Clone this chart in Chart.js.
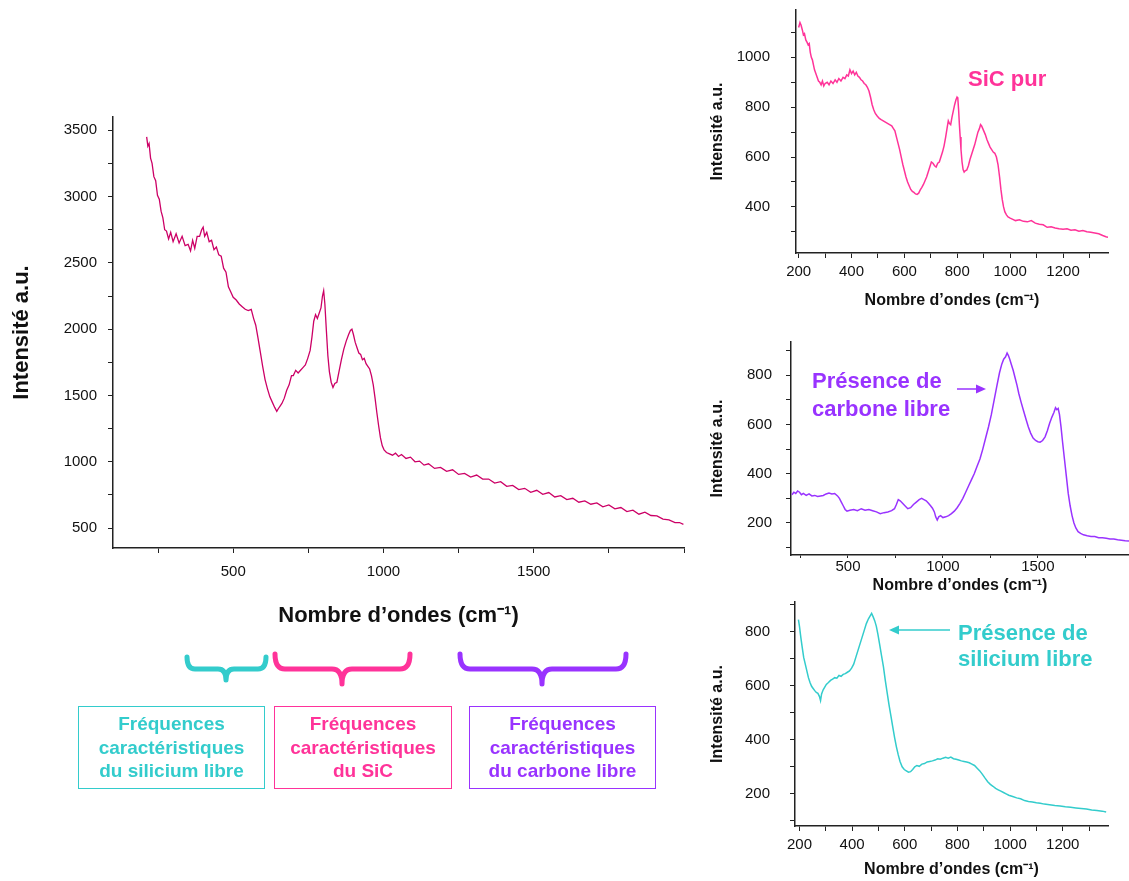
<!DOCTYPE html>
<html lang="fr">
<head>
<meta charset="utf-8">
<title>Spectres Raman - SiC</title>
<script src="https://cdn.jsdelivr.net/npm/chart.js@4.4.1/dist/chart.umd.min.js"></script>
<style>
    body { margin: 0; background: #fff; font-family: 'Liberation Sans', Arial, Helvetica, sans-serif; }
    #page { position: relative; width: 1129px; height: 881px; overflow: hidden; }
    #page canvas, #page svg, .note, .freq-box { position: absolute; }
    .note { font-weight: bold; font-size: 22px; white-space: nowrap; }
    .freq-box {
        box-sizing: border-box; border: 1.5px solid; display: flex; align-items: center;
        justify-content: center; text-align: center; font-weight: bold; font-size: 19px; line-height: 23.5px;
    }
</style>
</head>
<body>
<div id="page">
    <canvas id="mainChart" width="700" height="540" style="left:0;top:100px"></canvas>
    <canvas id="sicChart" width="429" height="320" style="left:700px;top:0"></canvas>
    <canvas id="carbonChart" width="429" height="270" style="left:700px;top:330px"></canvas>
    <canvas id="siliconChart" width="429" height="286" style="left:700px;top:595px"></canvas>

    <div class="note" style="left:968px;top:65px;color:#ff3399;line-height:27px">SiC pur</div>
    <div class="note" style="left:812px;top:367px;color:#9933ff;line-height:28px">Présence de<br>carbone libre</div>
    <div class="note" style="left:958px;top:620px;color:#33cccc;line-height:26px">Présence de<br>silicium libre</div>

    <svg width="1129" height="881" style="left:0;top:0">
        <g fill="none" stroke-width="5" stroke-linecap="round" stroke-linejoin="round">
            <path stroke="#33cccc" d="M187 657 Q187 669 195 669 L218 669 Q226 669 226 680 Q226 669 234 669 L258 669 Q266 669 266 657"/>
            <path stroke="#ff3399" d="M275 654 Q275 669 285 669 L332 669 Q342 669 342 684 Q342 669 352 669 L400 669 Q410 669 410 654"/>
            <path stroke="#9933ff" d="M460 654 Q460 669 470 669 L532 669 Q542 669 542 684 Q542 669 552 669 L616 669 Q626 669 626 654"/>
        </g>
        <line x1="957" y1="389" x2="978" y2="389" stroke="#9933ff" stroke-width="1.5"/>
        <polygon points="986,389 976,384.5 976,393.5" fill="#9933ff"/>
        <line x1="950" y1="630" x2="897" y2="630" stroke="#33cccc" stroke-width="1.5"/>
        <polygon points="889,630 899,625.5 899,634.5" fill="#33cccc"/>
    </svg>

    <div class="freq-box" style="left:78px;top:706px;width:187px;height:83px;border-color:#33cccc;color:#33cccc">Fréquences<br>caractéristiques<br>du silicium libre</div>
    <div class="freq-box" style="left:274px;top:706px;width:178px;height:83px;border-color:#ff3399;color:#ff3399">Fréquences<br>caractéristiques<br>du SiC</div>
    <div class="freq-box" style="left:469px;top:706px;width:187px;height:83px;border-color:#9933ff;color:#9933ff">Fréquences<br>caractéristiques<br>du carbone libre</div>
</div>

<script>
const FONT_FAMILY = "'Liberation Sans', Arial, Helvetica, sans-serif";
const TEXT_COLOR = '#111';
const AXIS_COLOR = '#222';
const X_TITLE = 'Nombre d’ondes (cm⁻¹)';
const Y_TITLE = 'Intensité a.u.';

// spectre principal (échantillon)
const MAIN_WAVENUMBER = [
    212, 216, 220, 225, 230, 236, 242, 248, 254, 260,
    266, 272, 278, 285, 292, 300, 310, 320, 330, 340,
    350, 358, 365, 372, 380, 388, 395, 400, 405, 412,
    420, 428, 436, 444, 452, 460, 468, 476, 484, 492,
    500, 510, 520, 530, 540, 550, 560, 568, 575, 582,
    590, 598, 606, 614, 622, 630, 638, 645, 650, 656,
    662, 670, 678, 686, 694, 700, 708, 716, 724, 732,
    740, 748, 756, 762, 768, 774, 780, 786, 792, 797,
    801, 805, 810, 815, 820, 826, 832, 838, 845, 852,
    860, 868, 876, 884, 890, 895, 900, 906, 912, 918,
    924, 930, 936, 942, 948, 954, 960, 966, 972, 978,
    984, 990, 996, 1002, 1010, 1020, 1030, 1040, 1050, 1060,
    1075, 1090, 1105, 1120, 1135, 1150, 1170, 1190, 1210, 1230,
    1250, 1270, 1290, 1310, 1330, 1350, 1370, 1390, 1410, 1430,
    1450, 1470, 1490, 1510, 1530, 1550, 1570, 1590, 1610, 1630,
    1650, 1670, 1690, 1710, 1730, 1750, 1770, 1790, 1810, 1830,
    1850, 1870, 1890, 1910, 1930, 1950, 1970, 1985, 1998
];
const MAIN_INTENSITY = [
    3450, 3380, 3400, 3290, 3250, 3150, 3120, 3010, 2980, 2890,
    2840, 2750, 2740, 2680, 2730, 2660, 2720, 2650, 2700, 2630,
    2640, 2590, 2670, 2610, 2700, 2700, 2750, 2770, 2700, 2730,
    2660, 2670, 2600, 2620, 2560, 2550, 2460, 2430, 2320, 2280,
    2240, 2220, 2190, 2170, 2150, 2140, 2150, 2080, 2030, 1940,
    1830, 1720, 1620, 1550, 1490, 1450, 1410, 1380, 1400, 1420,
    1440, 1480, 1540, 1580, 1650, 1650, 1690, 1670, 1690, 1710,
    1730, 1780, 1840, 1940, 2060, 2110, 2080, 2120, 2160, 2250,
    2290, 2190, 1990, 1800, 1680, 1600, 1560, 1590, 1600, 1680,
    1770, 1850, 1910, 1960, 1990, 2000, 1960, 1900, 1860, 1820,
    1810, 1770, 1780, 1740, 1720, 1700, 1650, 1580, 1480, 1370,
    1270, 1180, 1120, 1090, 1070, 1060, 1050, 1065, 1040, 1055,
    1025, 1035, 1000, 1005, 975, 985, 950, 958, 928, 940,
    905, 912, 885, 900, 870, 870, 840, 850, 815, 822,
    790, 800, 770, 785, 755, 768, 735, 745, 715, 725,
    695, 705, 680, 690, 660, 675, 645, 655, 625, 635,
    605, 620, 595, 592, 568, 562, 542, 542, 528
];
const MAIN_X_TICKS = [250, 500, 750, 1000, 1250, 1500, 1750, 2000];
const MAIN_X_LABELS = [500, 1000, 1500];
const MAIN_Y_TICKS = [500, 750, 1000, 1250, 1500, 1750, 2000, 2250, 2500, 2750, 3000, 3250, 3500];
const MAIN_Y_LABELS = [500, 1000, 1500, 2000, 2500, 3000, 3500];

// SiC pur
const SIC_WAVENUMBER = [
    200, 205, 209, 214, 218, 222, 227, 232, 236, 240,
    244, 248, 252, 256, 260, 265, 270, 275, 280, 285,
    290, 295, 300, 308, 315, 322, 330, 338, 345, 352,
    360, 368, 375, 382, 388, 394, 400, 406, 412, 418,
    424, 430, 436, 442, 448, 454, 460, 466, 472, 478,
    484, 490, 497, 505, 512, 520, 528, 536, 544, 552,
    558, 564, 570, 576, 582, 588, 594, 600, 606, 612,
    618, 624, 630, 636, 642, 648, 654, 660, 666, 672,
    678, 684, 690, 696, 702, 708, 714, 720, 726, 732,
    738, 744, 750, 756, 762, 766, 770, 775, 780, 785,
    790, 795, 799, 802, 805, 808, 811, 814, 818, 822,
    826, 830, 836, 842, 848, 854, 860, 866, 872, 878,
    884, 888, 892, 896, 900, 906, 912, 918, 924, 930,
    936, 942, 948, 954, 960, 965, 970, 975, 980, 986,
    992, 1000, 1010, 1020, 1035, 1050, 1065, 1080, 1095, 1110,
    1125, 1140, 1155, 1170, 1185, 1200, 1215, 1230, 1245, 1260,
    1275, 1290, 1305, 1320, 1335, 1350, 1362, 1370
];
const SIC_INTENSITY = [
    1120, 1140, 1130, 1110, 1090, 1095, 1070, 1060, 1050, 1055,
    1020, 1000, 990, 970, 950, 935, 920, 905, 900, 890,
    905, 885, 895, 900, 890, 905, 895, 910, 900, 915,
    905, 920, 915, 930, 925, 950, 935, 945, 930, 940,
    925, 920, 910, 905, 895, 890, 880, 865, 840, 810,
    790, 775, 765, 755, 750, 745, 740, 735, 730, 725,
    715, 705, 680, 655, 630, 600, 570, 545, 520, 500,
    485, 470, 462, 458, 452, 450, 455, 468, 478, 490,
    505, 520, 540, 560, 580, 575, 565, 560, 575, 580,
    600, 620, 645, 680, 720, 745, 735, 730, 760, 785,
    810, 830, 840, 835, 790, 730, 680, 630, 580, 550,
    540, 545, 548, 565, 590, 610, 630, 650, 675, 700,
    715, 730, 725, 715, 705, 690, 670, 655, 640, 630,
    620, 615, 600, 570, 520, 470, 430, 400, 380, 368,
    360, 355, 350, 345, 348, 342, 340, 345, 335, 330,
    328, 318, 320, 315, 312, 310, 312, 306, 308, 302,
    305, 300, 298, 295, 292, 285, 280, 278
];
const SIC_X_TICKS = [200, 300, 400, 500, 600, 700, 800, 900, 1000, 1100, 1200, 1300];
const SIC_X_LABELS = [200, 400, 600, 800, 1000, 1200];
const SIC_Y_TICKS = [300, 400, 500, 600, 700, 800, 900, 1000, 1100];
const SIC_Y_LABELS = [400, 600, 800, 1000];

// carbone libre
const CARBON_WAVENUMBER = [
    205, 215, 225, 235, 245, 255, 265, 280, 295, 310,
    325, 340, 355, 370, 385, 400, 415, 430, 445, 455,
    465, 475, 485, 495, 510, 530, 550, 570, 590, 610,
    630, 650, 670, 690, 710, 730, 745, 755, 765, 775,
    785, 800, 815, 830, 845, 860, 875, 888, 900, 912,
    924, 935, 945, 955, 962, 970, 978, 988, 1000, 1015,
    1030, 1045, 1060, 1075, 1090, 1105, 1120, 1135, 1150, 1165,
    1180, 1195, 1210, 1225, 1240, 1255, 1270, 1285, 1298, 1310,
    1320, 1330, 1338, 1345, 1352, 1360, 1370, 1380, 1390, 1400,
    1412, 1425, 1438, 1450, 1462, 1475, 1488, 1500, 1512, 1525,
    1538, 1550, 1562, 1574, 1585, 1593, 1600, 1607, 1614, 1622,
    1630, 1640, 1650, 1660, 1670, 1680, 1690, 1700, 1712, 1725,
    1740, 1760, 1780, 1800, 1820, 1840, 1860, 1880, 1900, 1920,
    1940, 1960, 1980
];
const CARBON_INTENSITY = [
    315, 325, 320, 330, 325, 315, 320, 312, 318, 310,
    312, 308, 310, 312, 318, 322, 318, 320, 310, 300,
    285, 270, 255, 248, 252, 255, 250, 258, 252, 255,
    250, 245, 238, 242, 245, 250, 258, 275, 295, 290,
    282, 270, 258, 262, 275, 285, 295, 300, 295, 290,
    280, 270, 260, 245, 225, 212, 225, 230, 222, 225,
    230, 238, 248, 262, 280, 300, 325, 350, 375, 400,
    430, 460, 500, 545, 590, 640, 700, 760, 810, 845,
    865, 875, 890, 880, 865, 845, 820, 790, 760, 725,
    690, 655, 620, 590, 565, 545, 535, 530, 528, 535,
    550, 575, 605, 630, 650, 668, 660, 665, 640, 590,
    530, 460, 390, 320, 270, 230, 200, 180, 165, 158,
    152, 148, 145, 145, 140, 140, 138, 135, 135, 132,
    130, 128, 127
];
const CARBON_X_TICKS = [250, 500, 750, 1000, 1250, 1500, 1750];
const CARBON_X_LABELS = [500, 1000, 1500];
const CARBON_Y_TICKS = [100, 200, 300, 400, 500, 600, 700, 800, 900];
const CARBON_Y_LABELS = [200, 400, 600, 800];

// silicium libre
const SILICON_WAVENUMBER = [
    196, 200, 205, 210, 216, 222, 228, 234, 240, 246,
    252, 258, 264, 270, 276, 280, 284, 290, 296, 302,
    310, 318, 326, 334, 342, 350, 358, 366, 374, 382,
    390, 398, 406, 414, 422, 430, 438, 446, 454, 462,
    468, 474, 480, 486, 492, 498, 505, 512, 519, 526,
    533, 540, 547, 554, 561, 568, 575, 582, 590, 598,
    606, 614, 622, 630, 638, 646, 655, 665, 675, 685,
    695, 705, 715, 725, 735, 745, 755, 765, 775, 785,
    795, 805, 815, 825, 835, 845, 855, 865, 875, 885,
    895, 905, 915, 925, 935, 945, 955, 965, 975, 985,
    995, 1010, 1025, 1040, 1055, 1070, 1085, 1100, 1115, 1130,
    1150, 1170, 1190, 1210, 1230, 1250, 1270, 1290, 1310, 1330,
    1350, 1365
];
const SILICON_INTENSITY = [
    845, 820, 780, 745, 705, 680, 655, 630, 612, 598,
    590, 582, 575, 572, 560, 545, 570, 585, 595, 605,
    612, 620, 625, 630, 628, 638, 635, 642, 645, 650,
    655, 665, 680, 705, 730, 755, 780, 805, 830, 848,
    858, 868, 855, 840, 820, 790, 750, 710, 670, 620,
    575, 530, 490, 450, 410, 375, 345, 320, 300, 290,
    285, 280, 282, 290, 300, 305, 302, 310, 312, 318,
    320, 322, 325, 330, 328, 332, 335, 332, 336, 330,
    328, 325, 322, 320, 318, 315, 310, 305, 295, 285,
    272, 258, 245, 235, 228, 220, 215, 210, 205, 200,
    195, 190, 185, 182, 175, 172, 170, 167, 165, 162,
    160, 157, 155, 152, 150, 148, 146, 144, 140, 138,
    136, 133
];
const SILICON_X_TICKS = [200, 300, 400, 500, 600, 700, 800, 900, 1000, 1100, 1200, 1300];
const SILICON_X_LABELS = [200, 400, 600, 800, 1000, 1200];
const SILICON_Y_TICKS = [100, 200, 300, 400, 500, 600, 700, 800, 900];
const SILICON_Y_LABELS = [200, 400, 600, 800];

function toPoints(xs, ys) {
    return xs.map((x, i) => ({x: x, y: ys[i]}));
}

function axisOptions(axis) {
    return {
        type: 'linear',
        min: axis.range[0],
        max: axis.range[1],
        afterBuildTicks: scale => { scale.ticks = axis.ticks.map(v => ({value: v})); },
        afterFit: scale => {
            // fixed box sizes so the plot area lands where the figure has it
            if (scale.isHorizontal()) scale.height = axis.size;
            else scale.width = axis.size;
            scale.paddingTop = 0;
            scale.paddingBottom = 0;
            scale.paddingLeft = 0;
            scale.paddingRight = 0;
        },
        ticks: {
            autoSkip: false,
            maxRotation: 0,
            padding: axis.tickPadding,
            color: TEXT_COLOR,
            font: {family: FONT_FAMILY, size: axis.tickSize},
            callback: v => axis.labels.includes(v) ? String(v) : ''
        },
        grid: {drawOnChartArea: false, drawTicks: true, tickLength: axis.tickLength, color: AXIS_COLOR, lineWidth: 1},
        border: {display: true, color: AXIS_COLOR, width: 1.5},
        title: {
            display: true,
            text: axis.title,
            color: TEXT_COLOR,
            font: {family: FONT_FAMILY, size: axis.titleSize, weight: 'bold'},
            padding: {top: axis.titlePadding, bottom: axis.titlePadding}
        }
    };
}

function drawSpectrum(canvasId, spec) {
    const ctx = document.getElementById(canvasId).getContext('2d');
    return new Chart(ctx, {
        type: 'line',
        data: {
            datasets: [{
                data: toPoints(spec.xs, spec.ys),
                borderColor: spec.color,
                borderWidth: spec.lineWidth,
                pointRadius: 0,
                tension: 0
            }]
        },
        options: {
            responsive: false,
            animation: false,
            events: [],
            layout: {padding: spec.padding},
            plugins: {legend: {display: false}, tooltip: {enabled: false}},
            scales: {
                x: axisOptions(spec.x),
                y: axisOptions(spec.y)
            }
        }
    });
}

drawSpectrum('mainChart', {
    xs: MAIN_WAVENUMBER, ys: MAIN_INTENSITY, color: '#cc0066', lineWidth: 1.3,
    padding: {top: 17, right: 16, left: 0, bottom: 0},
    x: {range: [100, 2000], ticks: MAIN_X_TICKS, labels: MAIN_X_LABELS, size: 92,
        tickLength: 5, tickPadding: 10, tickSize: 15, title: X_TITLE, titleSize: 22, titlePadding: 11},
    y: {range: [350, 3600], ticks: MAIN_Y_TICKS, labels: MAIN_Y_LABELS, size: 113,
        tickLength: 5, tickPadding: 11, tickSize: 15, title: Y_TITLE, titleSize: 22, titlePadding: 9}
});

drawSpectrum('sicChart', {
    xs: SIC_WAVENUMBER, ys: SIC_INTENSITY, color: '#ff3399', lineWidth: 1.5,
    padding: {top: 10, right: 21, left: 0, bottom: 0},
    x: {range: [190, 1370], ticks: SIC_X_TICKS, labels: SIC_X_LABELS, size: 67,
        tickLength: 5, tickPadding: 5, tickSize: 15, title: X_TITLE, titleSize: 16, titlePadding: 10},
    y: {range: [215, 1190], ticks: SIC_Y_TICKS, labels: SIC_Y_LABELS, size: 96,
        tickLength: 5, tickPadding: 21, tickSize: 15, title: Y_TITLE, titleSize: 16, titlePadding: 8}
});

drawSpectrum('carbonChart', {
    xs: CARBON_WAVENUMBER, ys: CARBON_INTENSITY, color: '#9933ff', lineWidth: 1.5,
    padding: {top: 12, right: 0, left: 0, bottom: 0},
    x: {range: [200, 1980], ticks: CARBON_X_TICKS, labels: CARBON_X_LABELS, size: 45,
        tickLength: 3, tickPadding: 0, tickSize: 15, title: X_TITLE, titleSize: 16, titlePadding: 5},
    y: {range: [70, 935], ticks: CARBON_Y_TICKS, labels: CARBON_Y_LABELS, size: 91,
        tickLength: 5, tickPadding: 14, tickSize: 15, title: Y_TITLE, titleSize: 16, titlePadding: 8}
});

drawSpectrum('siliconChart', {
    xs: SILICON_WAVENUMBER, ys: SILICON_INTENSITY, color: '#33cccc', lineWidth: 1.5,
    padding: {top: 7, right: 21, left: 0, bottom: 0},
    x: {range: [183, 1372], ticks: SILICON_X_TICKS, labels: SILICON_X_LABELS, size: 55,
        tickLength: 5, tickPadding: 5, tickSize: 15, title: X_TITLE, titleSize: 16, titlePadding: 2},
    y: {range: [81, 910], ticks: SILICON_Y_TICKS, labels: SILICON_Y_LABELS, size: 95,
        tickLength: 5, tickPadding: 20, tickSize: 15, title: Y_TITLE, titleSize: 16, titlePadding: 8}
});
</script>
</body>
</html>
